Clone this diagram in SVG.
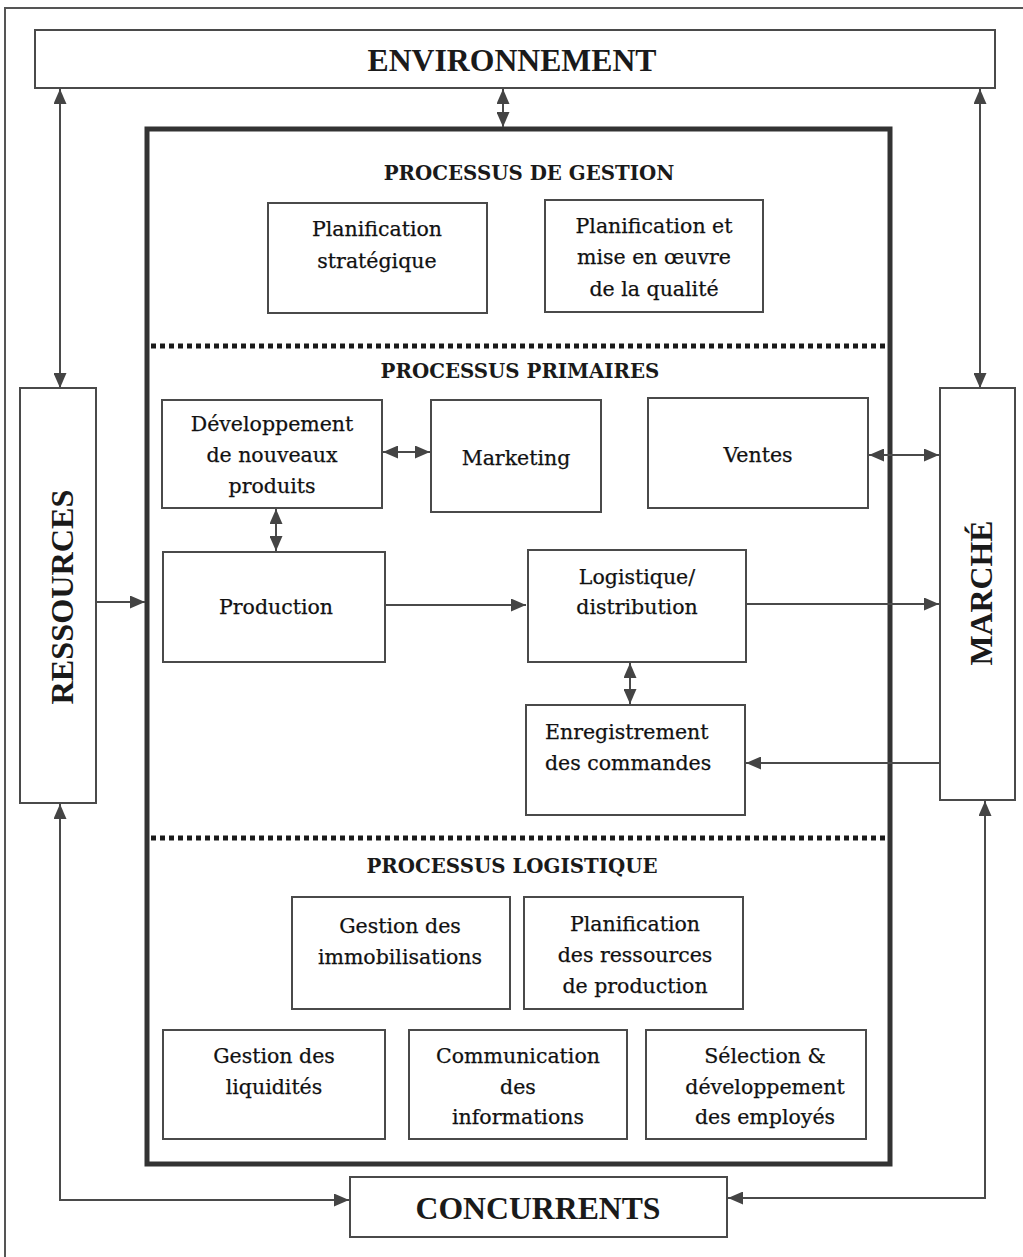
<svg xmlns="http://www.w3.org/2000/svg" width="1023" height="1257" viewBox="0 0 1023 1257">
  <style>
    .box { fill: #ffffff; stroke: #4a4a4a; stroke-width: 2; }
    .big { font-family: "Liberation Serif", "Times New Roman", serif; font-weight: bold; font-size: 32px; fill: #1a1a1a; text-anchor: middle; }
    .head { font-family: "DejaVu Serif", "Liberation Serif", serif; font-weight: bold; font-size: 19.8px; fill: #1a1a1a; text-anchor: middle; }
    .lbl { font-family: "DejaVu Serif", "Liberation Serif", serif; font-size: 20.5px; fill: #111; stroke: #111; stroke-width: 0.25; text-anchor: middle; }
    .left { text-anchor: start; }
    .wire { fill: none; stroke: #4a4a4a; stroke-width: 2; }
    .dots { stroke: #1a1a1a; stroke-width: 5; stroke-dasharray: 5 4; }
  </style>
  <defs>
    <marker id="arrow" viewBox="0 0 15 13" refX="15" refY="6.5" markerWidth="15" markerHeight="13" markerUnits="userSpaceOnUse" orient="auto-start-reverse">
      <path d="M0,0 L15,6.5 L0,13 z" fill="#444"/>
    </marker>
  </defs>

  <rect x="0" y="0" width="1023" height="1257" fill="#ffffff"/>

  <!-- page frame -->
  <path d="M5,1257 V8 H1023" fill="none" stroke="#555" stroke-width="2"/>

  <!-- main process frame -->
  <rect id="organisation" x="147" y="129" width="743" height="1035" fill="none" stroke="#333" stroke-width="5"/>

  <g id="connectors">
    <line class="wire" x1="503" y1="89" x2="503" y2="127" marker-start="url(#arrow)" marker-end="url(#arrow)"/>
    <line class="wire" x1="60" y1="89" x2="60" y2="388" marker-start="url(#arrow)" marker-end="url(#arrow)"/>
    <line class="wire" x1="980" y1="89" x2="980" y2="388" marker-start="url(#arrow)" marker-end="url(#arrow)"/>
    <line class="wire" x1="96" y1="602" x2="145" y2="602" marker-end="url(#arrow)"/>
    <path class="wire" d="M60,804 V1200 H349" marker-start="url(#arrow)" marker-end="url(#arrow)"/>
    <path class="wire" d="M985,801 V1198 H728" marker-start="url(#arrow)" marker-end="url(#arrow)"/>
    <line class="wire" x1="383" y1="452" x2="430" y2="452" marker-start="url(#arrow)" marker-end="url(#arrow)"/>
    <line class="wire" x1="869" y1="455" x2="939" y2="455" marker-start="url(#arrow)" marker-end="url(#arrow)"/>
    <line class="wire" x1="276" y1="509" x2="276" y2="551" marker-start="url(#arrow)" marker-end="url(#arrow)"/>
    <line class="wire" x1="386" y1="605" x2="526" y2="605" marker-end="url(#arrow)"/>
    <line class="wire" x1="747" y1="604" x2="939" y2="604" marker-end="url(#arrow)"/>
    <line class="wire" x1="630" y1="663" x2="630" y2="704" marker-start="url(#arrow)" marker-end="url(#arrow)"/>
    <line class="wire" x1="939" y1="763" x2="746" y2="763" marker-end="url(#arrow)"/>
  </g>

  <g id="environnement">
    <rect class="box" x="35" y="30" width="960" height="58"/>
    <text class="big" x="512" y="71" textLength="289" lengthAdjust="spacingAndGlyphs">ENVIRONNEMENT</text>
  </g>

  <g id="ressources">
    <rect class="box" x="20" y="388" width="76" height="415"/>
    <text class="big" transform="translate(73,597) rotate(-90)" textLength="215" lengthAdjust="spacingAndGlyphs">RESSOURCES</text>
  </g>

  <g id="marche">
    <rect class="box" x="940" y="388" width="75" height="412"/>
    <text class="big" transform="translate(992,593) rotate(-90)" textLength="145" lengthAdjust="spacingAndGlyphs">MARCHÉ</text>
  </g>

  <g id="concurrents">
    <rect class="box" x="350" y="1177" width="377" height="60"/>
    <text class="big" x="538" y="1219" textLength="245" lengthAdjust="spacingAndGlyphs">CONCURRENTS</text>
  </g>

  <!-- section dividers and headings -->
  <line class="dots" x1="151" y1="346" x2="888" y2="346"/>
  <line class="dots" x1="151" y1="838" x2="888" y2="838"/>
  <text class="head" x="529" y="180">PROCESSUS DE GESTION</text>
  <text class="head" x="520" y="378">PROCESSUS PRIMAIRES</text>
  <text class="head" x="512" y="873">PROCESSUS LOGISTIQUE</text>

  <g id="planification-strategique">
    <rect class="box" x="268" y="203" width="219" height="110"/>
    <text class="lbl" x="377" y="236">Planification</text>
    <text class="lbl" x="377" y="268">stratégique</text>
  </g>

  <g id="qualite">
    <rect class="box" x="545" y="200" width="218" height="112"/>
    <text class="lbl" x="654" y="233">Planification et</text>
    <text class="lbl" x="654" y="264">mise en œuvre</text>
    <text class="lbl" x="654" y="296">de la qualité</text>
  </g>

  <g id="developpement">
    <rect class="box" x="162" y="400" width="220" height="108"/>
    <text class="lbl" x="272" y="431">Développement</text>
    <text class="lbl" x="272" y="462">de nouveaux</text>
    <text class="lbl" x="272" y="493">produits</text>
  </g>

  <g id="marketing">
    <rect class="box" x="431" y="400" width="170" height="112"/>
    <text class="lbl" x="516" y="465">Marketing</text>
  </g>

  <g id="ventes">
    <rect class="box" x="648" y="398" width="220" height="110"/>
    <text class="lbl" x="758" y="462">Ventes</text>
  </g>

  <g id="production">
    <rect class="box" x="163" y="552" width="222" height="110"/>
    <text class="lbl" x="276" y="614">Production</text>
  </g>

  <g id="logistique">
    <rect class="box" x="528" y="550" width="218" height="112"/>
    <text class="lbl" x="637" y="584">Logistique/</text>
    <text class="lbl" x="637" y="614">distribution</text>
  </g>

  <g id="enregistrement">
    <rect class="box" x="526" y="705" width="219" height="110"/>
    <text class="lbl left" x="545" y="739">Enregistrement</text>
    <text class="lbl left" x="545" y="770">des commandes</text>
  </g>

  <g id="immobilisations">
    <rect class="box" x="292" y="897" width="218" height="112"/>
    <text class="lbl" x="400" y="933">Gestion des</text>
    <text class="lbl" x="400" y="964">immobilisations</text>
  </g>

  <g id="ressources-production">
    <rect class="box" x="524" y="897" width="219" height="112"/>
    <text class="lbl" x="635" y="931">Planification</text>
    <text class="lbl" x="635" y="962">des ressources</text>
    <text class="lbl" x="635" y="993">de production</text>
  </g>

  <g id="liquidites">
    <rect class="box" x="163" y="1030" width="222" height="109"/>
    <text class="lbl" x="274" y="1063">Gestion des</text>
    <text class="lbl" x="274" y="1094">liquidités</text>
  </g>

  <g id="communication">
    <rect class="box" x="409" y="1030" width="218" height="109"/>
    <text class="lbl" x="518" y="1063">Communication</text>
    <text class="lbl" x="518" y="1094">des</text>
    <text class="lbl" x="518" y="1124">informations</text>
  </g>

  <g id="employes">
    <rect class="box" x="646" y="1030" width="220" height="109"/>
    <text class="lbl" x="765" y="1063">Sélection &amp;</text>
    <text class="lbl" x="765" y="1094">développement</text>
    <text class="lbl" x="765" y="1124">des employés</text>
  </g>
</svg>
